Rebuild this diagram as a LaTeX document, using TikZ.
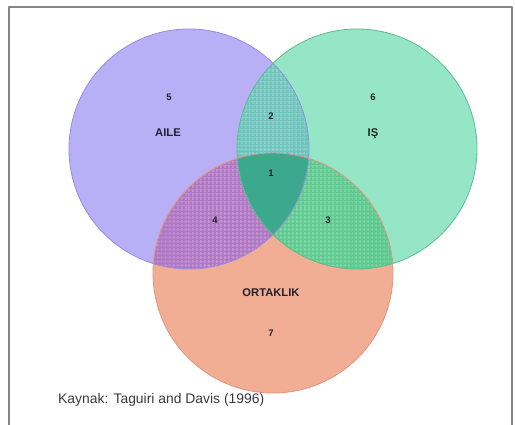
\documentclass[tikz,border=0pt]{standalone}
\usepackage{fontspec}
\setmainfont{Liberation Sans}
\usetikzlibrary{patterns.meta}
\definecolor{ink}{HTML}{23232E}
\definecolor{frame}{HTML}{858585}
\definecolor{aile}{HTML}{B9AFF6}
\definecolor{ailedk}{HTML}{978CE0}
\definecolor{isc}{HTML}{94E6C6}
\definecolor{iscdk}{HTML}{5FBB8E}
\definecolor{ortak}{HTML}{F2AE95}
\definecolor{ortakdk}{HTML}{E0977C}
\definecolor{ai}{HTML}{6EC4BC}
\definecolor{ailine}{HTML}{8CD4CC}
\definecolor{ao}{HTML}{AE76C3}
\definecolor{aoline}{HTML}{C28DD2}
\definecolor{io}{HTML}{5CC98E}
\definecolor{ioline}{HTML}{7AD5A4}
\definecolor{core}{HTML}{3CA98E}
\tikzset{
  every picture/.style={line cap=round, line join=round},
  ring/.style={line width=0.8pt},
  hgrid/.style={pattern={Lines[angle=0,distance=4pt,line width=0.45pt]}, pattern color=#1},
  vgrid/.style={pattern={Lines[angle=90,distance=4pt,line width=0.45pt]}, pattern color=#1},
  lab/.style={text=ink, font=\fontsize{11.2}{13}\selectfont\bfseries, inner sep=0pt, text depth=0pt},
  num/.style={text=ink, font=\fontsize{9.5}{11}\selectfont\bfseries, inner sep=0pt, text depth=0pt},
  src/.style={text=ink!90, font=\fontsize{13.9}{16}\selectfont, inner sep=0pt, anchor=west}
}
\newcommand{\Rad}{120pt}
\newcommand{\Overlap}[4]{%
  % #1,#2 = circle centres, #3 = fill colour, #4 = grid colour
  \begin{scope}
    \clip (#1) circle (\Rad);
    \clip (#2) circle (\Rad);
    \fill[#3] (#1) circle (\Rad);
    \fill[hgrid=#4] (#1) circle (\Rad);
    \fill[vgrid=#4] (#1) circle (\Rad);
  \end{scope}
}

\begin{document}
\begin{tikzpicture}[x=1pt, y=-1pt]
  \useasboundingbox (0,0) rectangle (515,425);
  \coordinate (A) at (189,149);
  \coordinate (I) at (357,149);
  \coordinate (O) at (273,273);

  % frame (bottom edge lies below the page)
  \draw[frame, line width=1.5pt] (9,440) -- (9,7) -- (512,7) -- (512,440);

  % discs
  \fill[aile] (A) circle (\Rad);
  \fill[isc] (I) circle (\Rad);
  \fill[ortak] (O) circle (\Rad);

  % pairwise overlaps
  \Overlap{A}{I}{ai}{ailine}
  \Overlap{A}{O}{ao}{aoline}
  \Overlap{I}{O}{io}{ioline}

  % centre
  \begin{scope}
    \clip (A) circle (\Rad);
    \clip (I) circle (\Rad);
    \fill[core] (O) circle (\Rad);
  \end{scope}

  % outlines
  \draw[ring, draw=ailedk] (A) circle (\Rad);
  \draw[ring, draw=iscdk] (I) circle (\Rad);
  \draw[ring, draw=ortakdk] (O) circle (\Rad);

  % labels
  \node[num] (n5) at (169,97) {5};
  \node[lab] (aileLbl) at (168,133) {AILE};
  \node[num] (n6) at (373,97) {6};
  \node[lab] (isLbl) at (373,133) {IŞ};
  \node[num] (n2) at (271,116) {2};
  \node[num] (n1) at (271,173) {1};
  \node[num] (n4) at (215,220) {4};
  \node[num] (n3) at (328,220) {3};
  \node[lab] (ortakLbl) at (271,293) {ORTAKLIK};
  \node[num] (n7) at (271,333) {7};

  % source
  \node[src] (kaynak) at (58,400) {Kaynak: Taguiri and Davis (1996)};
\end{tikzpicture}
\end{document}
